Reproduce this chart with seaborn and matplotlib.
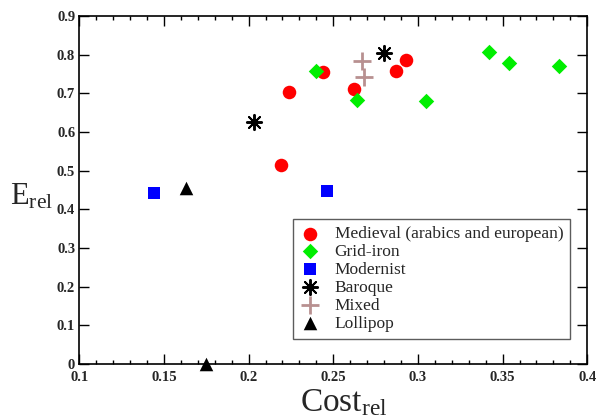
import matplotlib
matplotlib.use("Agg")
import matplotlib.pyplot as plt
import seaborn as sns
import pandas as pd
from matplotlib.ticker import MultipleLocator, FuncFormatter

# ---- data ----
medieval_x = [0.224, 0.219, 0.244, 0.262, 0.287, 0.293]
medieval_y = [0.703, 0.515, 0.754, 0.710, 0.758, 0.787]
gridiron_x = [0.240, 0.264, 0.305, 0.342, 0.354, 0.383]
gridiron_y = [0.757, 0.683, 0.681, 0.807, 0.778, 0.772]
modernist_x = [0.144, 0.246]
modernist_y = [0.443, 0.447]
baroque_x = [0.203, 0.280]
baroque_y = [0.625, 0.805]
mixed_x = [0.267, 0.268]
mixed_y = [0.784, 0.743]
lollipop_x = [0.163, 0.175]
lollipop_y = [0.454, 0.0]

labels = ["Medieval (arabics and european)", "Grid-iron", "Modernist",
          "Baroque", "Mixed", "Lollipop"]
xs = [medieval_x, gridiron_x, modernist_x, baroque_x, mixed_x, lollipop_x]
ys = [medieval_y, gridiron_y, modernist_y, baroque_y, mixed_y, lollipop_y]

styles = [
    dict(marker="o", color="#ff0000", s=95, linewidth=0),
    dict(marker="D", color="#00ee00", s=62, linewidth=0),
    dict(marker="s", color="#0000ff", s=65, linewidth=0),
    dict(marker=(8, 2, 0), color="black", s=120, linewidth=1.4),
    dict(marker="+", color="#b89090", s=150, linewidth=2.0),
    dict(marker="^", color="black", s=95, linewidth=0),
]

sns.set_style("ticks")
plt.rcParams["font.family"] = ["Liberation Serif", "DejaVu Serif"]
plt.rcParams["mathtext.fontset"] = "custom"
plt.rcParams["mathtext.rm"] = "Liberation Serif"
plt.rcParams["mathtext.it"] = "Liberation Serif:italic"

fig = plt.figure(figsize=(5.98, 4.17), dpi=100)
ax = fig.add_axes([0.1326, 0.127, 0.8495, 0.8346])

for lab, x, y, st in zip(labels, xs, ys, styles):
    df = pd.DataFrame({"Cost": x, "E": y})
    sns.scatterplot(data=df, x="Cost", y="E", ax=ax, label=lab,
                    marker=st["marker"], color=st["color"], s=st["s"],
                    linewidth=st["linewidth"], edgecolor=st["color"],
                    clip_on=False, zorder=3)

ax.set_xlim(0.1, 0.4)
ax.set_ylim(0, 0.9)
ax.xaxis.set_major_locator(MultipleLocator(0.05))
ax.xaxis.set_minor_locator(MultipleLocator(0.01))
ax.yaxis.set_major_locator(MultipleLocator(0.1))
ax.xaxis.set_major_formatter(FuncFormatter(lambda v, p: f"{v:g}"))
ax.yaxis.set_major_formatter(FuncFormatter(lambda v, p: f"{v:g}"))

ax.tick_params(which="both", direction="in", top=True, right=True,
               labelsize=10.5, color="black", width=1.0)
ax.tick_params(axis="x", pad=5)
ax.tick_params(axis="y", pad=3)
ax.tick_params(which="major", length=7)
ax.tick_params(which="minor", length=3)
for lbl in ax.get_xticklabels() + ax.get_yticklabels():
    lbl.set_fontweight("bold")
for sp in ax.spines.values():
    sp.set_visible(True)
    sp.set_color("black")
    sp.set_linewidth(1.2)

ax.set_xlabel(r"$\mathrm{Cost}_{\mathrm{rel}}$", fontsize=24, va="top")
ax.set_ylabel(r"$\mathrm{E}_{\mathrm{rel}}$", fontsize=22, rotation=0,
              ha="center", va="center")
ax.xaxis.set_label_coords(0.52, -0.068)
ax.yaxis.set_label_coords(-0.095, 0.482)

leg = ax.legend(loc="upper left", bbox_to_anchor=(0.4207, 0.4167),
                borderaxespad=0, fontsize=12.5, frameon=True, fancybox=False,
                handlelength=1.2, handletextpad=0.8, labelspacing=0.1,
                borderpad=0.4, markerscale=1.0)
leg.get_frame().set_edgecolor("#333333")
leg.get_frame().set_linewidth(1.0)

fig.savefig("out.png", dpi=100)
